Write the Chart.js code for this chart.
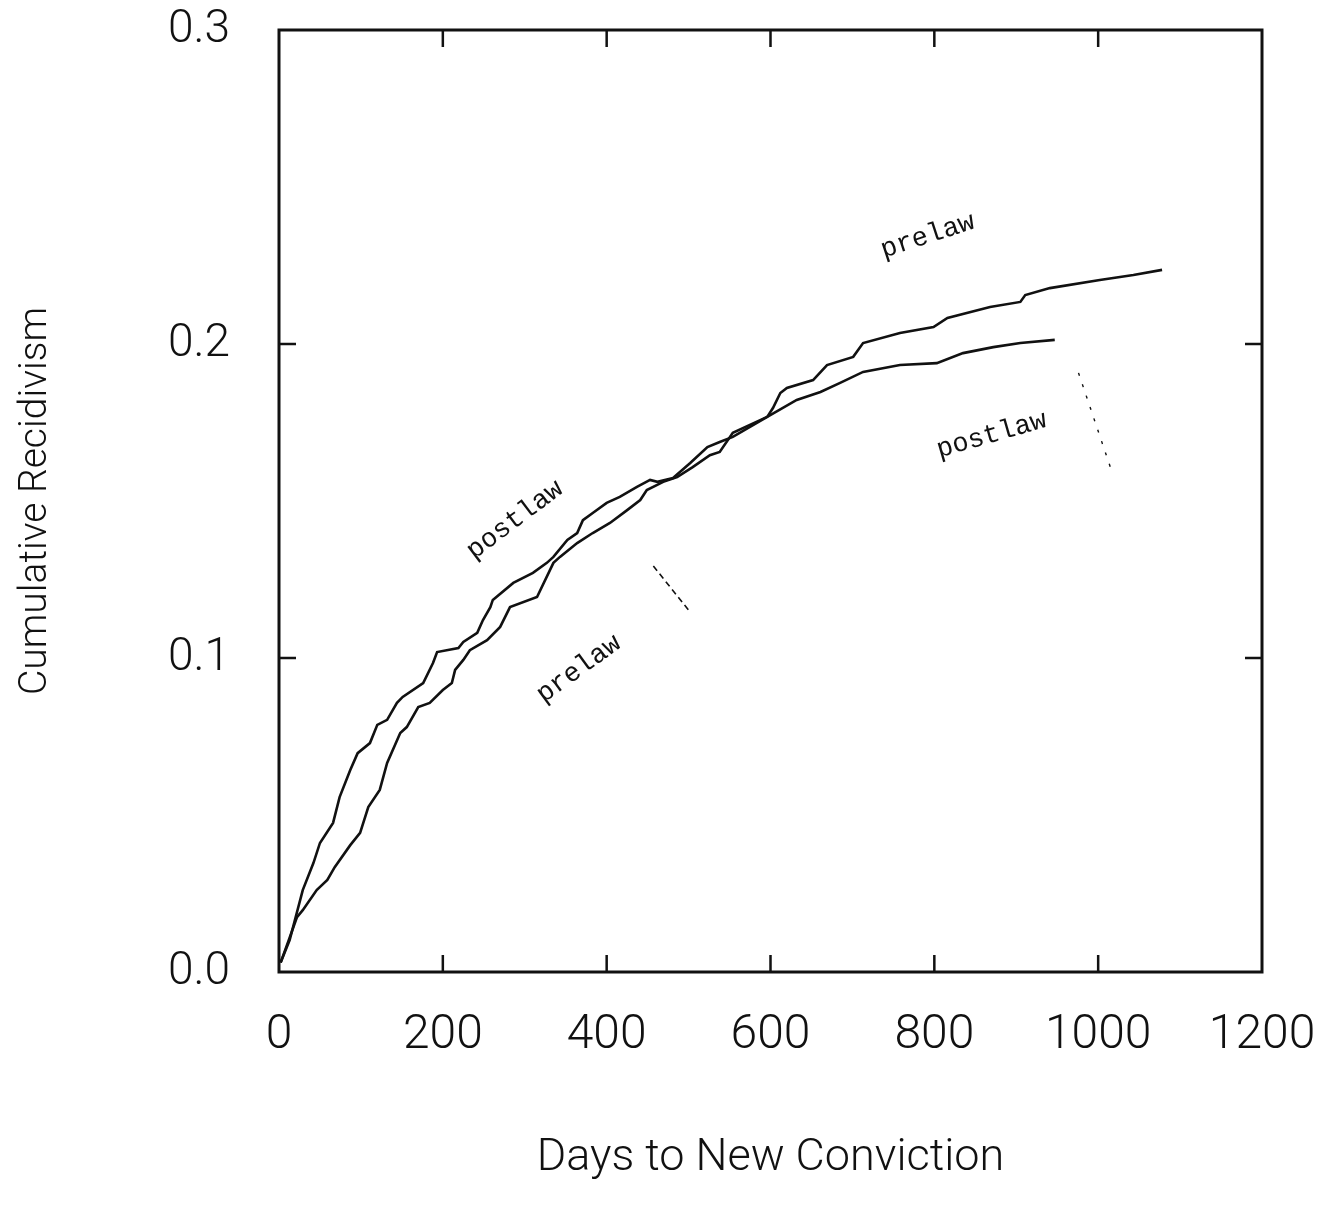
<!DOCTYPE html>
<html>
<head>
<meta charset="utf-8">
<script src="https://cdn.jsdelivr.net/npm/chart.js@4.4.1/dist/chart.umd.min.js"></script>
<style>
  html, body { margin: 0; padding: 0; background: #ffffff; }
  #wrap { width: 1334px; height: 1212px; }
</style>
</head>
<body>
<div id="wrap"><canvas id="c" width="1334" height="1212"></canvas></div>
<script>
// ---- data ----
const postlawDays = [2, 13, 29, 42, 50, 66, 74, 87, 96, 111, 120, 132, 144, 151, 176, 188, 193, 219, 225, 242, 249, 258, 261, 286, 310, 327, 335, 352, 364, 371, 383, 400, 416, 437, 453, 462, 481, 502, 523, 538, 554, 596, 632, 661, 685, 713, 758, 803, 835, 872, 905, 947];
const postlawRate = [0.003, 0.0102, 0.0261, 0.0347, 0.0411, 0.0475, 0.0557, 0.0643, 0.0697, 0.0729, 0.0787, 0.0803, 0.0857, 0.0876, 0.0920, 0.0984, 0.1019, 0.1032, 0.1051, 0.1080, 0.1121, 0.1162, 0.1185, 0.1239, 0.1271, 0.1303, 0.1322, 0.1376, 0.1398, 0.1439, 0.1462, 0.1494, 0.1513, 0.1545, 0.1567, 0.1561, 0.1573, 0.1621, 0.1672, 0.1688, 0.1704, 0.1768, 0.1822, 0.1847, 0.1876, 0.1911, 0.1933, 0.1939, 0.1971, 0.1990, 0.2003, 0.2013];

const prelawDays = [2, 22, 29, 46, 59, 68, 87, 99, 109, 123, 132, 148, 156, 170, 184, 200, 211, 215, 225, 233, 254, 270, 282, 315, 335, 343, 364, 383, 404, 425, 441, 449, 469, 486, 505, 526, 538, 554, 596, 603, 612, 620, 652, 669, 701, 713, 758, 799, 816, 868, 905, 911, 941, 1002, 1043, 1078];
const prelawRate = [0.003, 0.0175, 0.0197, 0.0261, 0.0293, 0.0334, 0.0404, 0.0443, 0.0525, 0.0580, 0.0666, 0.0761, 0.0780, 0.0844, 0.0857, 0.0898, 0.0920, 0.0962, 0.0994, 0.1025, 0.1057, 0.1099, 0.1162, 0.1194, 0.1303, 0.1322, 0.1366, 0.1398, 0.1430, 0.1471, 0.1503, 0.1535, 0.1561, 0.1576, 0.1608, 0.1646, 0.1656, 0.1717, 0.1768, 0.1796, 0.1844, 0.1860, 0.1885, 0.1933, 0.1959, 0.2003, 0.2035, 0.2054, 0.2083, 0.2118, 0.2134, 0.2156, 0.2178, 0.2204, 0.2220, 0.2236];

// leader lines pointing from labels to curves
const leaderPrelawDays = [457, 502];
const leaderPrelawRate = [0.1293, 0.1146];
const leaderPostlawDays = [976, 1016];
const leaderPostlawRate = [0.1908, 0.1599];

const xTickLabels = ['0', '200', '400', '600', '800', '1000', '1200'];
const yTickLabels = ['0.0', '0.1', '0.2', '0.3'];
const innerXTicks = [200, 400, 600, 800, 1000];
const innerYTicks = [0.1, 0.2];

// curve labels: [text, day, rate, angle in degrees]
const curveLabelText = ['postlaw', 'prelaw', 'prelaw', 'postlaw'];
const curveLabelDay = [288, 366, 792, 870];
const curveLabelRate = [0.144, 0.0965, 0.2344, 0.171];
const curveLabelAngle = [-37, -36, -18, -16];

const xTitle = 'Days to New Conviction';
const yTitle = 'Cumulative Recidivism';

// ---- chart ----
const toXY = (xs, ys) => xs.map((x, i) => ({ x: x, y: ys[i] }));
const INK = '#111111';
const sansFont = "'Roboto', 'Liberation Sans', Arial, sans-serif";

const framePlugin = {
  id: 'framePlugin',
  afterDraw(chart) {
    const { ctx, chartArea: a, scales } = chart;
    const xs = scales.x, ys = scales.y;
    ctx.save();
    ctx.strokeStyle = INK;
    ctx.lineWidth = 3;
    ctx.strokeRect(a.left, a.top, a.right - a.left, a.bottom - a.top);
    ctx.lineWidth = 2.5;
    const tl = 17;
    ctx.beginPath();
    innerXTicks.forEach(v => {
      const px = xs.getPixelForValue(v);
      ctx.moveTo(px, a.bottom); ctx.lineTo(px, a.bottom - tl);
      ctx.moveTo(px, a.top); ctx.lineTo(px, a.top + tl);
    });
    innerYTicks.forEach(v => {
      const py = ys.getPixelForValue(v);
      ctx.moveTo(a.left, py); ctx.lineTo(a.left + tl, py);
      ctx.moveTo(a.right, py); ctx.lineTo(a.right - tl, py);
    });
    ctx.stroke();

    ctx.fillStyle = INK;
    ctx.font = "27px 'Liberation Mono', 'Courier New', monospace";
    ctx.textAlign = 'center';
    ctx.textBaseline = 'middle';
    curveLabelText.forEach((t, i) => {
      const px = xs.getPixelForValue(curveLabelDay[i]);
      const py = ys.getPixelForValue(curveLabelRate[i]);
      ctx.save();
      ctx.translate(px, py);
      ctx.rotate(curveLabelAngle[i] * Math.PI / 180);
      ctx.fillText(t, 0, 0);
      ctx.restore();
    });
    ctx.restore();
  }
};

new Chart(document.getElementById('c'), {
  type: 'line',
  data: {
    datasets: [
      { label: 'postlaw', data: toXY(postlawDays, postlawRate), borderColor: INK, borderWidth: 2.6, pointRadius: 0, tension: 0, fill: false },
      { label: 'prelaw', data: toXY(prelawDays, prelawRate), borderColor: INK, borderWidth: 2.6, pointRadius: 0, tension: 0, fill: false },
      { label: 'leader1', data: toXY(leaderPrelawDays, leaderPrelawRate), borderColor: INK, borderWidth: 1.6, borderDash: [6, 4], pointRadius: 0, fill: false },
      { label: 'leader2', data: toXY(leaderPostlawDays, leaderPostlawRate), borderColor: INK, borderWidth: 1.4, borderDash: [3, 9], pointRadius: 0, fill: false }
    ]
  },
  options: {
    responsive: false,
    animation: false,
    events: [],
    layout: { padding: { top: 30, right: 72, left: 0, bottom: 0 } },
    plugins: { legend: { display: false }, tooltip: { enabled: false } },
    scales: {
      x: {
        type: 'linear', min: 0, max: 1200,
        grid: { display: false, drawTicks: false },
        border: { display: false },
        ticks: {
          stepSize: 200, padding: 35, color: INK, maxRotation: 0, autoSkip: false,
          font: { family: sansFont, size: 48, weight: '300' },
          callback: (v, i) => xTickLabels[i]
        },
        title: {
          display: true, text: xTitle, color: INK,
          font: { family: sansFont, size: 45, weight: '300' },
          padding: { top: 0, bottom: 26 }
        },
        afterFit: s => { s.height = 240; s.paddingLeft = 0; s.paddingRight = 0; }
      },
      y: {
        type: 'linear', min: 0, max: 0.3,
        grid: { display: false, drawTicks: false },
        border: { display: false },
        ticks: {
          stepSize: 0.1, padding: 49, color: INK, autoSkip: false,
          font: { family: sansFont, size: 46, weight: '300' },
          callback: (v, i) => yTickLabels[i]
        },
        title: {
          display: true, text: yTitle, color: INK,
          font: { family: sansFont, size: 39, weight: '300' },
          padding: { top: 13, bottom: 0 }
        },
        afterFit: s => { s.width = 279; s.paddingTop = 0; s.paddingBottom = 0; }
      }
    }
  },
  plugins: [framePlugin]
});
</script>
</body>
</html>
